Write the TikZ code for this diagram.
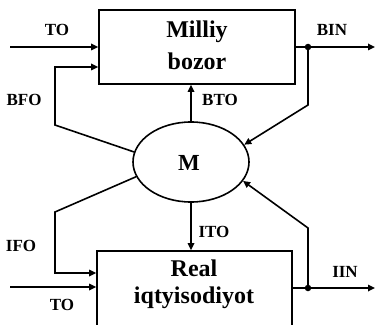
\documentclass[tikz,border=0pt]{standalone}
\usepackage{fontspec}
\setmainfont{Liberation Serif}
\usetikzlibrary{arrows.meta,shapes.geometric,calc}
\begin{document}
\begin{tikzpicture}[x=1pt,y=1pt,line width=1.6pt,
  arr/.style={-{Triangle[length=7pt,width=6.5pt]}},
  box/.style={draw,rectangle,inner sep=0pt},
  lbl/.style={font=\fontsize{17}{17}\selectfont\bfseries,inner sep=0pt},
  boxtxt/.style={font=\fontsize{24}{24}\selectfont\bfseries,inner sep=0pt},
  dot/.style={circle,fill,inner sep=0pt,minimum size=6.5pt}]
\useasboundingbox (0,0) rectangle (379,324);
% blocks
\node[box,minimum width=196pt,minimum height=74pt] (top) at (197,277) {};
\node[box,minimum width=195pt,minimum height=84pt] (bot) at (194.5,31) {};
\node[draw,ellipse,minimum width=116pt,minimum height=80pt,inner sep=0pt] (M) at (191,162) {};
\node[font=\fontsize{23}{23}\selectfont\bfseries,inner sep=0pt] (Mt) at (189,161) {M};
% block texts
\node[boxtxt] (t1) at (197,292) {Milliy};
\node[boxtxt] (t2) at (197,263) {bozor};
\node[boxtxt] (t3) at (194,56) {Real};
\node[boxtxt] (t4) at (194,26) {iqtyisodiyot};
% coordinates
\coordinate (toin) at (10,277);
\coordinate (bfoA) at (55,199);
\coordinate (bfoB) at (55,257);
\coordinate (binEnd) at (375,277);
\coordinate (binA) at (308,219);
\coordinate (ifoA) at (55,112);
\coordinate (ifoB) at (55,51);
\coordinate (toin2) at (10,37);
\coordinate (iinEnd) at (375,36);
\coordinate (iinA) at (308,96);
\node[dot] (d1) at (308,277) {};
\node[dot] (d2) at (308,36) {};
% top connectors
\draw[arr] (toin) -- (toin -| top.west);
\draw[arr] (M.170) -- (bfoA) -- (bfoB) -- (bfoB -| top.west);
\draw[arr] (M.north) -- (M.north |- top.south);
\draw[arr] (d1 -| top.east) -- (binEnd);
\draw[arr] (d1.center) -- (binA) -- (M.18);
% bottom connectors
\draw[arr] (M.south) -- (M.south |- bot.north);
\draw[arr] (M.195) -- (ifoA) -- (ifoB) -- (ifoB -| bot.west);
\draw[arr] (toin2) -- (toin2 -| bot.west);
\draw[arr] (d2 -| bot.east) -- (iinEnd);
\draw[arr] (d2.center) -- (iinA) -- (M.340);
% labels
\node[lbl] (lTO1) at (57,294) {TO};
\node[lbl] (lBIN) at (332,294) {BIN};
\node[lbl] (lBFO) at (24,224) {BFO};
\node[lbl] (lBTO) at (220,224) {BTO};
\node[lbl] (lIFO) at (21,78) {IFO};
\node[lbl] (lITO) at (214,92) {ITO};
\node[lbl] (lIIN) at (345,52) {IIN};
\node[lbl] (lTO2) at (62,19) {TO};
\end{tikzpicture}
\end{document}
